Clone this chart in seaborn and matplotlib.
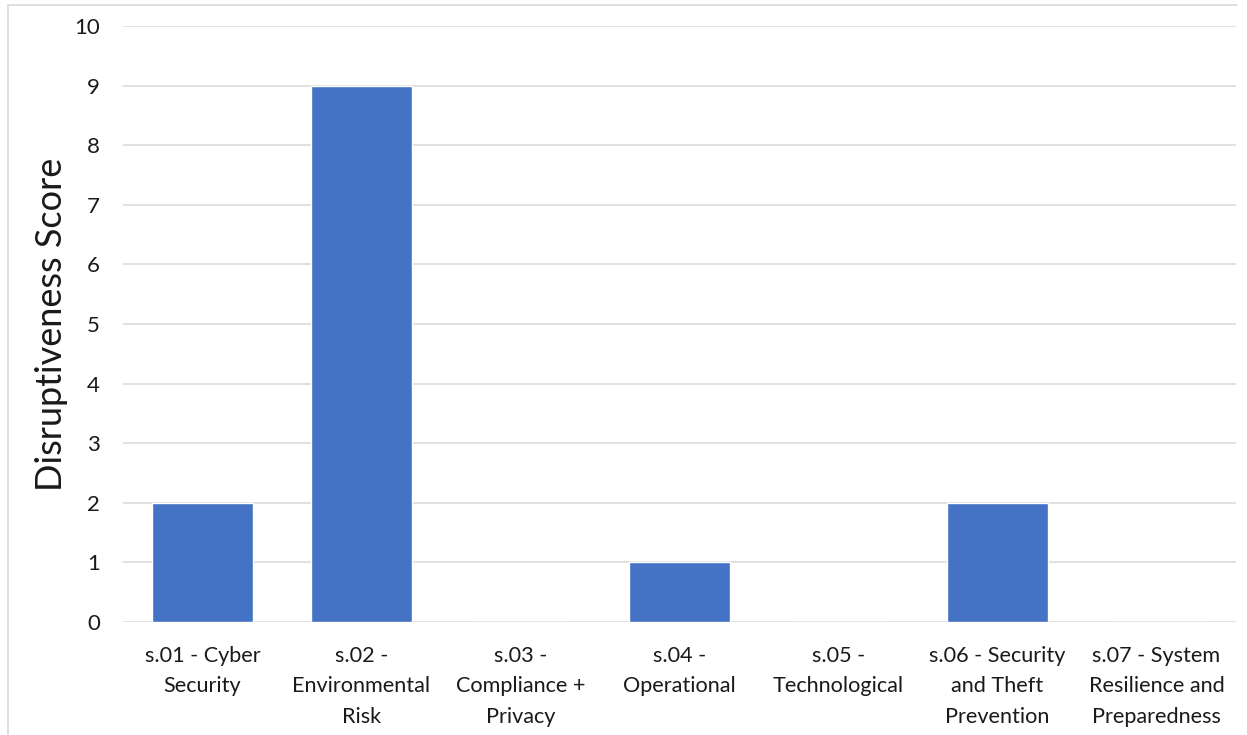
import matplotlib
matplotlib.use("Agg")
import matplotlib.pyplot as plt
import seaborn as sns
import pandas as pd
from matplotlib.lines import Line2D

categories = [
    "s.01 - Cyber\nSecurity",
    "s.02 -\nEnvironmental\nRisk",
    "s.03 -\nCompliance +\nPrivacy",
    "s.04 -\nOperational",
    "s.05 -\nTechnological",
    "s.06 - Security\nand Theft\nPrevention",
    "s.07 - System\nResilience and\nPreparedness",
]
scores = [2, 9, 0, 1, 0, 2, 0]
y_ticks = list(range(0, 11))

df = pd.DataFrame({"category": categories, "score": scores})

sns.set_theme(style="white")
plt.rcParams["font.family"] = ["Lato", "DejaVu Sans"]

text_color = "#1a1a1a"

fig = plt.figure(figsize=(12.47, 7.35), dpi=100)
ax = fig.add_axes([123 / 1247, 1 - 622 / 735, (1236 - 123) / 1247, (622 - 26) / 735])

sns.barplot(data=df, x="category", y="score", color="#4472C4", width=0.63,
            saturation=1, ax=ax, zorder=3)

ax.set_ylim(0, 10)
ax.set_yticks(y_ticks)
ax.set_xlim(-0.5, len(categories) - 0.5)
ax.yaxis.grid(True, color="#D9D9D9", linewidth=1.1, zorder=0)
ax.xaxis.grid(False)
ax.set_axisbelow(True)
for s in ax.spines.values():
    s.set_visible(False)

ax.tick_params(axis="y", length=0, pad=16.5, labelsize=16, labelcolor=text_color)
ax.tick_params(axis="x", length=0, pad=17, labelsize=15.6, labelcolor=text_color)
for lbl in ax.get_xticklabels():
    lbl.set_linespacing(1.68)
    lbl.set_verticalalignment("top")

ax.set_xlabel("")
ax.set_ylabel("Disruptiveness Score", fontsize=26, color=text_color, va="center")
ax.yaxis.set_label_coords((52 - 123) / 1113, 0.5)

# chart frame edges
fig.add_artist(Line2D([8 / 1247, 8 / 1247], [0, 1 - 5 / 735], color="#D9D9D9", linewidth=1.2))
fig.add_artist(Line2D([8 / 1247, 1237 / 1247], [1 - 5 / 735, 1 - 5 / 735], color="#D9D9D9", linewidth=1.2))

fig.savefig("out.png", dpi=100, facecolor="white")
